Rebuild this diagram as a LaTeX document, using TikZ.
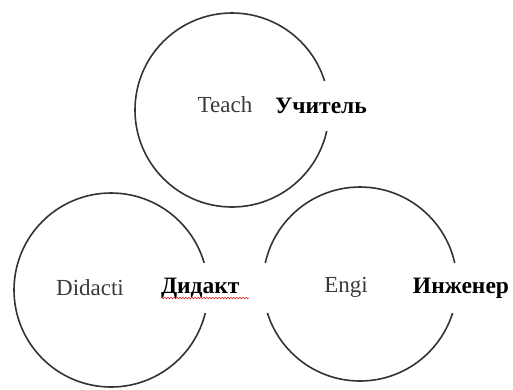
\documentclass[tikz,border=0pt]{standalone}
\usepackage{fontspec}
\setmainfont{Liberation Serif}
\usetikzlibrary{decorations.pathmorphing}
\definecolor{RingGray}{HTML}{333333}
\definecolor{WordGray}{HTML}{3A3A3A}
\definecolor{SpellRed}{HTML}{E0262B}

\begin{document}
\begin{tikzpicture}[x=1pt,y=-1pt,line cap=round,line join=round,
  ring/.style={circle,draw=RingGray,line width=1.6pt,minimum size=194pt,inner sep=0pt},
  en/.style={text=WordGray,font=\fontsize{23}{26}\selectfont},
  ru/.style={fill=white,minimum height=50pt,inner xsep=5pt,font=\fontsize{23.5}{27}\selectfont\bfseries}]
  \useasboundingbox (0,0) rectangle (513,389);
  \coordinate (T) at (232,110); \coordinate (D) at (111,290); \coordinate (E) at (360,284);
  \node[ring] (teacher) at (T) {}; \node[ring] (didact) at (D) {}; \node[ring] (engineer) at (E) {};
  % english words inside the rings
  \node[en] (teach) at (225,105) {Teach};
  \node[en] (didacti) at (90,288) {Didacti};
  \node[en] (engi) at (346,287) {Engi};
  % russian words cut into the rings
  \node[ru] (uchitel) at (321,106) {Учитель};
  \node[ru,text width=102pt,align=left] (didakt) at (212,288) {Дидакт};
  \node[ru] (inzhener) at (461,288) {Инженер};
  \draw[SpellRed,line width=0.6pt,decorate,decoration={snake,amplitude=0.8pt,segment length=3pt}]
    ([xshift=-51pt,yshift=-10pt]didakt.center) -- ([xshift=37pt,yshift=-10pt]didakt.center);
\end{tikzpicture}
\end{document}
